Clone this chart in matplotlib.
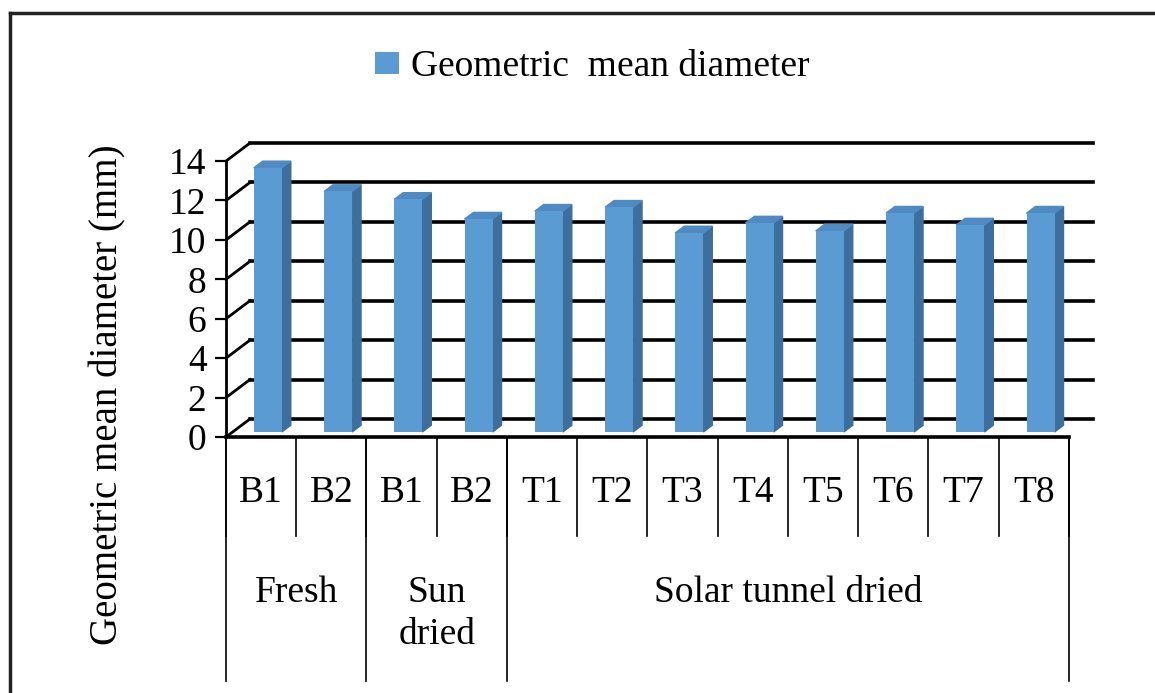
import numpy as np
import matplotlib
matplotlib.use('Agg')
import matplotlib.pyplot as plt
from matplotlib.patches import Polygon
from matplotlib.lines import Line2D

plt.rcParams['font.family'] = ['Liberation Serif', 'DejaVu Serif']

categories = ['B1', 'B2', 'B1', 'B2', 'T1', 'T2', 'T3', 'T4', 'T5', 'T6', 'T7', 'T8']
groups = ['Fresh', 'Sun\ndried', 'Solar tunnel dried']
group_sizes = [2, 2, 8]
gmd = [13.4, 12.2, 11.8, 10.8, 11.2, 11.4, 10.1, 10.6, 10.2, 11.1, 10.5, 11.1]
yticks = [0, 2, 4, 6, 8, 10, 12, 14]

# fake 3d: depth offset of the back wall in data units
DX, DY = 0.342, 0.917
f0, f1 = 0.28, 0.65   # front / back depth of the bars
bw = 0.4
front_c, side_c, top_c = '#5B9BD3', '#3C6E9E', '#4F8AC2'
fs = 27

fig = plt.figure(figsize=(11.55, 6.93), dpi=100)
ax = fig.add_axes([226 / 1155, 1 - 437 / 693, 867 / 1155, 294 / 693])
n = len(categories)
x = np.arange(n)
ax.set_xlim(-0.5, n - 0.5 + DX)
ax.set_ylim(0, max(yticks) + DY)

# back wall gridlines and left wall diagonals
for t in yticks:
    ax.plot([-0.5 + DX, n - 0.5 + DX], [t + DY, t + DY], color='black', lw=2.6,
            clip_on=False, zorder=1)
    ax.plot([-0.5, -0.5 + DX], [t, t + DY], color='black', lw=2.0,
            clip_on=False, zorder=1)

# bars: front faces via ax.bar, side and top faces as polygons
bars = ax.bar(x + f0 * DX, gmd, bw, bottom=f0 * DY, color=front_c,
              label='Geometric  mean diameter', zorder=3)
d = f1 - f0
for xi, v in zip(x, gmd):
    xl = xi - bw / 2 + f0 * DX
    xr = xi + bw / 2 + f0 * DX
    yb = f0 * DY
    yt = v + f0 * DY
    side = [(xr, yb), (xr + d * DX, yb + d * DY), (xr + d * DX, yt + d * DY), (xr, yt)]
    top = [(xl, yt), (xr, yt), (xr + d * DX, yt + d * DY), (xl + d * DX, yt + d * DY)]
    ax.add_patch(Polygon(side, closed=True, color=side_c, zorder=2, clip_on=False))
    ax.add_patch(Polygon(top, closed=True, color=top_c, zorder=2, clip_on=False))

for s in ['top', 'right']:
    ax.spines[s].set_visible(False)
ax.spines['left'].set_bounds(0, max(yticks))
ax.spines['bottom'].set_bounds(-0.5, n - 0.5)
ax.spines['left'].set_linewidth(2.0)
ax.spines['bottom'].set_linewidth(2.6)
ax.set_yticks(yticks)
ax.tick_params(axis='y', length=8, width=1.6, labelsize=fs, pad=6)
ax.set_xticks([])

# category table below the floor
for i in range(n + 1):
    ax.plot([i - 0.5, i - 0.5], [0, -5.0], color='black', lw=1.2, clip_on=False)
for i, c in enumerate(categories):
    ax.text(i, -2.85, c, ha='center', va='center', fontsize=fs)
edges = np.concatenate([[0], np.cumsum(group_sizes)]) - 0.5
for e in edges:
    ax.plot([e, e], [0, -12.4], color='black', lw=1.2, clip_on=False)
for g, a, b in zip(groups, edges[:-1], edges[1:]):
    yy = -8.98 if '\n' in g else -7.91
    ax.text((a + b) / 2, yy, g, ha='center', va='center', fontsize=fs,
            linespacing=1.3)

fig.text(108 / 1155, 1 - 395 / 693, 'Geometric mean diameter (mm)', rotation=90,
         ha='center', va='center', fontsize=28)

fig.legend(handles=[bars], loc='center', bbox_to_anchor=(592 / 1155, 1 - 67 / 693),
           frameon=False, fontsize=fs, handlelength=0.65, handleheight=0.55,
           handletextpad=0.3)

# outer frame
fig.add_artist(Line2D([10 / 1155, 10 / 1155], [0, 1 - 13 / 693], color='#222222', lw=2.5))
fig.add_artist(Line2D([10 / 1155, 1], [1 - 13 / 693, 1 - 13 / 693], color='#222222', lw=2.5))

fig.savefig('out.png', dpi=100)
